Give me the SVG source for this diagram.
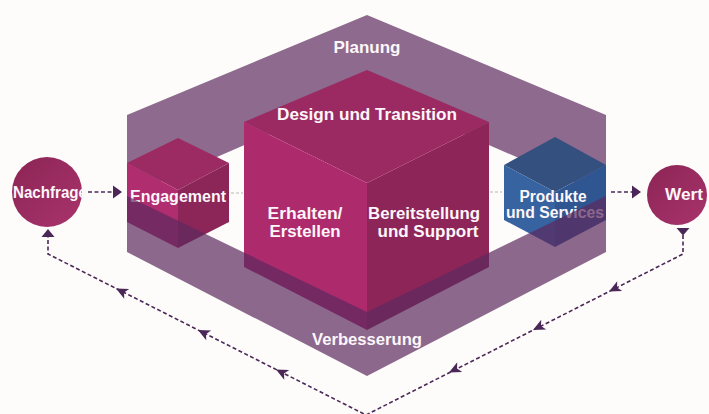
<svg xmlns="http://www.w3.org/2000/svg" xmlns:xlink="http://www.w3.org/1999/xlink" width="709" height="414" viewBox="0 0 709 414">
  <style>
    .t { font-family: "Liberation Sans", Arial, sans-serif; font-weight: bold; fill: #fdf6fa; text-anchor: middle; }
    .f17 { font-size: 17px; }
    .f16 { font-size: 16px; }
    .flow { fill: none; stroke: #4a2757; stroke-width: 1.6; stroke-dasharray: 4 2.5; }
    .faint { fill: none; stroke: #b5b5b5; stroke-width: 1.2; stroke-dasharray: 3 2; }
    .head { fill: #4a2757; }
    .band { fill: #8d6a8e; }
    .bandOver { fill: #5c2a5e; fill-opacity: 0.7; }
  </style>
  <defs>
    <path id="ah" d="M0,0 L-12,-5.5 L-9,0 L-12,5.5 Z"/>
    <linearGradient id="circ" x1="0" y1="0" x2="1" y2="1">
      <stop offset="0" stop-color="#8c2455"/>
      <stop offset="1" stop-color="#a8346c"/>
    </linearGradient>
  </defs>
  <rect x="0" y="0" width="709" height="414" fill="#fdfcfa"/>

  <!-- upper band (Planung) -->
  <g id="planung">
    <polygon class="band" points="127,196 127,115 367,15 606,115 606,196 367,92"/>
    <text class="t f17" x="367" y="53" textLength="67" lengthAdjust="spacingAndGlyphs">Planung</text>
  </g>

  <!-- connectors -->
  <g id="connectors">
    <line class="flow" x1="88" y1="192" x2="113" y2="192"/>
    <polygon class="head" points="113,185.5 122,192 113,198.5"/>
    <line class="faint" x1="231" y1="193" x2="243" y2="193"/>
    <line class="faint" x1="490" y1="192" x2="502" y2="192"/>
    <line class="flow" x1="611" y1="192" x2="632" y2="192"/>
    <polygon class="head" points="632,185.5 641,192 632,198.5"/>
    <polyline class="flow" points="683,235 683,254 366,415 48,254 48,236"/>
    <polygon class="head" points="676.5,228 689.5,228 683,235.5"/>
    <polygon class="head" points="41.5,237 54.5,237 48,229"/>
    <use xlink:href="#ah" class="head" transform="translate(609,291.5) rotate(153.1)"/>
    <use xlink:href="#ah" class="head" transform="translate(533,330) rotate(153.1)"/>
    <use xlink:href="#ah" class="head" transform="translate(449,372.5) rotate(153.1)"/>
    <use xlink:href="#ah" class="head" transform="translate(116,288.4) rotate(206.9)"/>
    <use xlink:href="#ah" class="head" transform="translate(198,330) rotate(206.9)"/>
    <use xlink:href="#ah" class="head" transform="translate(276,369.4) rotate(206.9)"/>
  </g>

  <!-- Nachfrage -->
  <g id="nachfrage">
    <circle cx="47" cy="192" r="35" fill="url(#circ)"/>
    <text class="t f17" x="50" y="198" textLength="74" lengthAdjust="spacingAndGlyphs">Nachfrage</text>
  </g>

  <!-- Wert -->
  <g id="wert">
    <circle cx="677" cy="195" r="30" fill="url(#circ)"/>
    <text class="t f17" x="684" y="200" textLength="38" lengthAdjust="spacingAndGlyphs">Wert</text>
  </g>

  <!-- Engagement cube -->
  <g id="engagement">
    <polygon fill="#9d2b63" points="178,138 229,163 178,190 127,163"/>
    <polygon fill="#b02d70" points="127,163 178,190 178,248 127,222"/>
    <polygon fill="#8c2659" points="178,190 229,163 229,222 178,248"/>
    <text class="t f17" x="178" y="202" textLength="96" lengthAdjust="spacingAndGlyphs">Engagement</text>
  </g>

  <!-- central cube -->
  <g id="kern">
    <polygon fill="#9b2a62" points="367,70 489,122 367,183 244,122"/>
    <polygon fill="#ad2b6d" points="244,122 367,183 367,330 244,267"/>
    <polygon fill="#8e2559" points="367,183 489,122 489,267 367,330"/>
    <text class="t f17" x="367" y="120" textLength="180" lengthAdjust="spacingAndGlyphs">Design und Transition</text>
    <text class="t" style="font-size:16.5px" x="305" y="219" textLength="75" lengthAdjust="spacingAndGlyphs">Erhalten/</text>
    <text class="t" style="font-size:16.5px" x="305" y="237" textLength="71" lengthAdjust="spacingAndGlyphs">Erstellen</text>
    <text class="t" style="font-size:16.5px" x="424" y="219" textLength="112" lengthAdjust="spacingAndGlyphs">Bereitstellung</text>
    <text class="t" style="font-size:16.5px" x="428" y="237" textLength="101" lengthAdjust="spacingAndGlyphs">und Support</text>
  </g>

  <!-- Produkte cube -->
  <g id="produkte">
    <polygon fill="#33507f" points="555,137 606,165 555,192 504,165"/>
    <polygon fill="#3763a0" points="504,165 555,192 555,247 504,220"/>
    <polygon fill="#2f5690" points="555,192 606,165 606,220 555,247"/>
    <text class="t f16" x="553" y="202" textLength="67" lengthAdjust="spacingAndGlyphs">Produkte</text>
    <text class="t f16" x="555" y="218" textLength="98" lengthAdjust="spacingAndGlyphs">und Services</text>
  </g>

  <!-- lower band (Verbesserung), drawn over the cubes -->
  <g id="verbesserung">
    <polygon class="bandOver" points="127,196 127,252 367,376 606,252 606,196 367,312"/>
    <text class="t f17" x="367" y="345" textLength="110" lengthAdjust="spacingAndGlyphs">Verbesserung</text>
  </g>
</svg>
